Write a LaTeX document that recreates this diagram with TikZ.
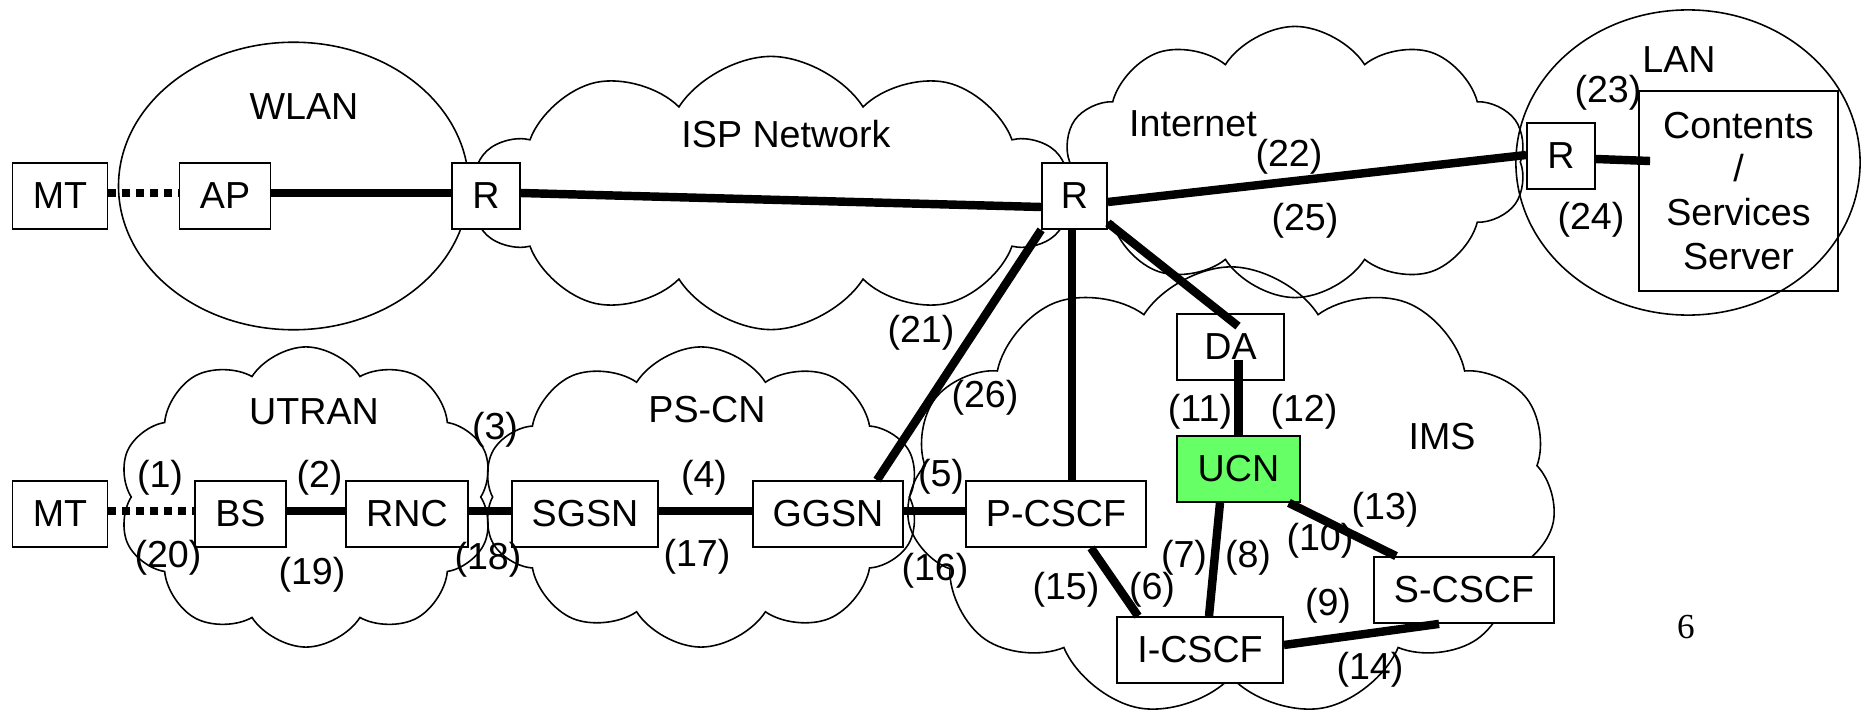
\documentclass[tikz,border=0pt]{standalone}
\usepackage{fontspec}
\setmainfont{Liberation Sans}
\newfontfamily\pageserif{Liberation Serif}
\usetikzlibrary{shapes.symbols,calc}
\newcommand\fsz{\fontsize{10.7}{12.5}\selectfont}
\definecolor{ucngreen}{RGB}{102,255,102}
\begin{document}
\begin{tikzpicture}[x=0.01cm,y=-0.01cm,font=\fsz,
  box/.style={draw,fill=white,line width=0.5pt,minimum height=0.66cm,inner sep=0pt},
  link/.style={line width=2.4pt},
  wless/.style={line width=2.4pt,dash pattern=on 0.075cm off 0.065cm},
  cl/.style={draw,cloud,cloud puffs=10,cloud puff arc=115,cloud ignores aspect,line width=0.45pt,inner sep=0pt},
  lbl/.style={inner sep=0pt}]
\useasboundingbox (0,0) rectangle (1862,715);
% clouds and ellipses
\node[cl,minimum width=5.97cm,minimum height=2.73cm] (ispc) at (771,193) {};
\node[cl,minimum width=4.63cm,minimum height=2.71cm] (inetc) at (1295,162) {};
\node[cl,minimum width=3.75cm,minimum height=3.0cm] (utranc) at (306,497) {};
\node[cl,minimum width=4.37cm,minimum height=3.0cm] (pscnc) at (701,497) {};
\node[cl,cloud puffs=11,minimum width=6.5cm,minimum height=4.5cm] (imsc) at (1231,492) {};
\draw[line width=0.45pt] (293.6,186) ellipse [x radius=1.75cm, y radius=1.437cm];
\draw[line width=0.45pt] (1688,162.5) ellipse [x radius=1.72cm, y radius=1.525cm];
% boxes
\node[box,minimum width=0.95cm] (mt1) at (60,196) {MT};
\node[box,minimum width=0.91cm] (ap) at (225,196) {AP};
\node[box,minimum width=0.68cm] (r1) at (486,196) {R};
\node[box,minimum width=0.65cm] (r2) at (1074.5,196) {R};
\node[box,minimum width=0.68cm] (r3) at (1561,156) {R};
\node[box,fill=none,minimum width=1.99cm,minimum height=2.0cm,align=center] (srv) at (1738.5,191) {Contents\\/\\Services\\Server};
\node[box,minimum width=0.95cm] (mt2) at (60,514) {MT};
\node[box,minimum width=0.91cm] (bs) at (240.5,514) {BS};
\node[box,minimum width=1.22cm] (rnc) at (407,514) {RNC};
\node[box,minimum width=1.46cm] (sgsn) at (585,514) {SGSN};
\node[box,minimum width=1.50cm] (ggsn) at (828,514) {GGSN};
\node[box,minimum width=1.80cm] (pcscf) at (1056,514) {P-CSCF};
\node[box,minimum width=1.07cm] (da) at (1230.5,347) {DA};
\node[box,fill=ucngreen,minimum width=1.23cm] (ucn) at (1238.5,469) {UCN};
\node[box,minimum width=1.66cm] (icscf) at (1200,650) {I-CSCF};
\node[box,minimum width=1.80cm] (scscf) at (1464,590) {S-CSCF};
% connectors
\draw[wless] ($(mt1.east)+(0,-3)$) -- ($(ap.west)+(0,-3)$);
\draw[link] ($(ap.east)+(0,-3)$) -- ($(r1.west)+(0,-3)$);
\draw[link] ($(r1.east)+(0,-3)$) -- ($(r2.west)+(0,11)$);
\draw[link] ($(r2.east)+(0,6)$) -- ($(r3.west)+(0,-1)$);
\draw[link] ($(r3.east)+(0,3)$) -- ($(srv.west)+(12,-30)$);
\draw[link] (r2.south west) -- ($(ggsn.north)+(49,0)$);
\draw[link] ($(r2.south)+(-2.5,0)$) -- ($(pcscf.north)+(16,0)$);
\draw[link] ($(r2.south east)+(0,-7)$) -- ($(da.north)+(7.5,13)$);
\draw[link] ($(da.center)+(8,13)$) -- (ucn.north);
\draw[link] ($(ucn.south)+(-18.5,0)$) -- ($(icscf.north)+(9,0)$);
\draw[link] ($(ucn.south east)+(-12,0)$) -- ($(scscf.north west)+(23,0)$);
\draw[link] ($(icscf.east)+(0,-5)$) -- ($(scscf.south west)+(66,0)$);
\draw[link] ($(pcscf.south)+(35,0)$) -- ($(icscf.north west)+(22,0)$);
\draw[wless] ($(mt2.east)+(0,-3)$) -- ($(bs.west)+(0,-3)$);
\draw[link] ($(bs.east)+(0,-3)$) -- ($(rnc.west)+(0,-3)$);
\draw[link] ($(rnc.east)+(0,-3)$) -- ($(sgsn.west)+(0,-3)$);
\draw[link] ($(sgsn.east)+(0,-3)$) -- ($(ggsn.west)+(0,-3)$);
\draw[link] ($(ggsn.east)+(0,-3)$) -- ($(pcscf.west)+(0,-3)$);
% area names
\node[lbl] (twlan) at (304,107) {WLAN};
\node[lbl] (tisp) at (786,134) {ISP Network};
\node[lbl] (tinet) at (1193,124) {Internet};
\node[lbl] (tlan) at (1679,60) {LAN};
\node[lbl] (tutran) at (314,412) {UTRAN};
\node[lbl] (tpscn) at (707,410) {PS-CN};
\node[lbl] (tims) at (1442,437) {IMS};
% interface labels
\node[lbl] (n1) at (160,478) {(1)};
\node[lbl] (n2) at (319.5,478) {(2)};
\node[lbl] (n3) at (495,430) {(3)};
\node[lbl] (n4) at (704,478) {(4)};
\node[lbl] (n5) at (941,477) {(5)};
\node[lbl] (n6) at (1152,590) {(6)};
\node[lbl] (n7) at (1184,558) {(7)};
\node[lbl] (n8) at (1248,558) {(8)};
\node[lbl] (n9) at (1328,606) {(9)};
\node[lbl] (n10) at (1320,541) {(10)};
\node[lbl] (n11) at (1200,412) {(11)};
\node[lbl] (n12) at (1304,412) {(12)};
\node[lbl] (n13) at (1385,510) {(13)};
\node[lbl] (n14) at (1370,670) {(14)};
\node[lbl] (n15) at (1066,590) {(15)};
\node[lbl] (n16) at (935,571) {(16)};
\node[lbl] (n17) at (697,557) {(17)};
\node[lbl] (n18) at (488,560) {(18)};
\node[lbl] (n19) at (312,575) {(19)};
\node[lbl] (n20) at (168,558) {(20)};
\node[lbl] (n21) at (921,333) {(21)};
\node[lbl] (n22) at (1289,157) {(22)};
\node[lbl] (n23) at (1608,93) {(23)};
\node[lbl] (n24) at (1591,220) {(24)};
\node[lbl] (n25) at (1305,221) {(25)};
\node[lbl] (n26) at (985,398) {(26)};
\node[lbl,font=\pageserif\fontsize{10}{12}\selectfont] (pg) at (1686,627) {6};
\end{tikzpicture}
\end{document}
